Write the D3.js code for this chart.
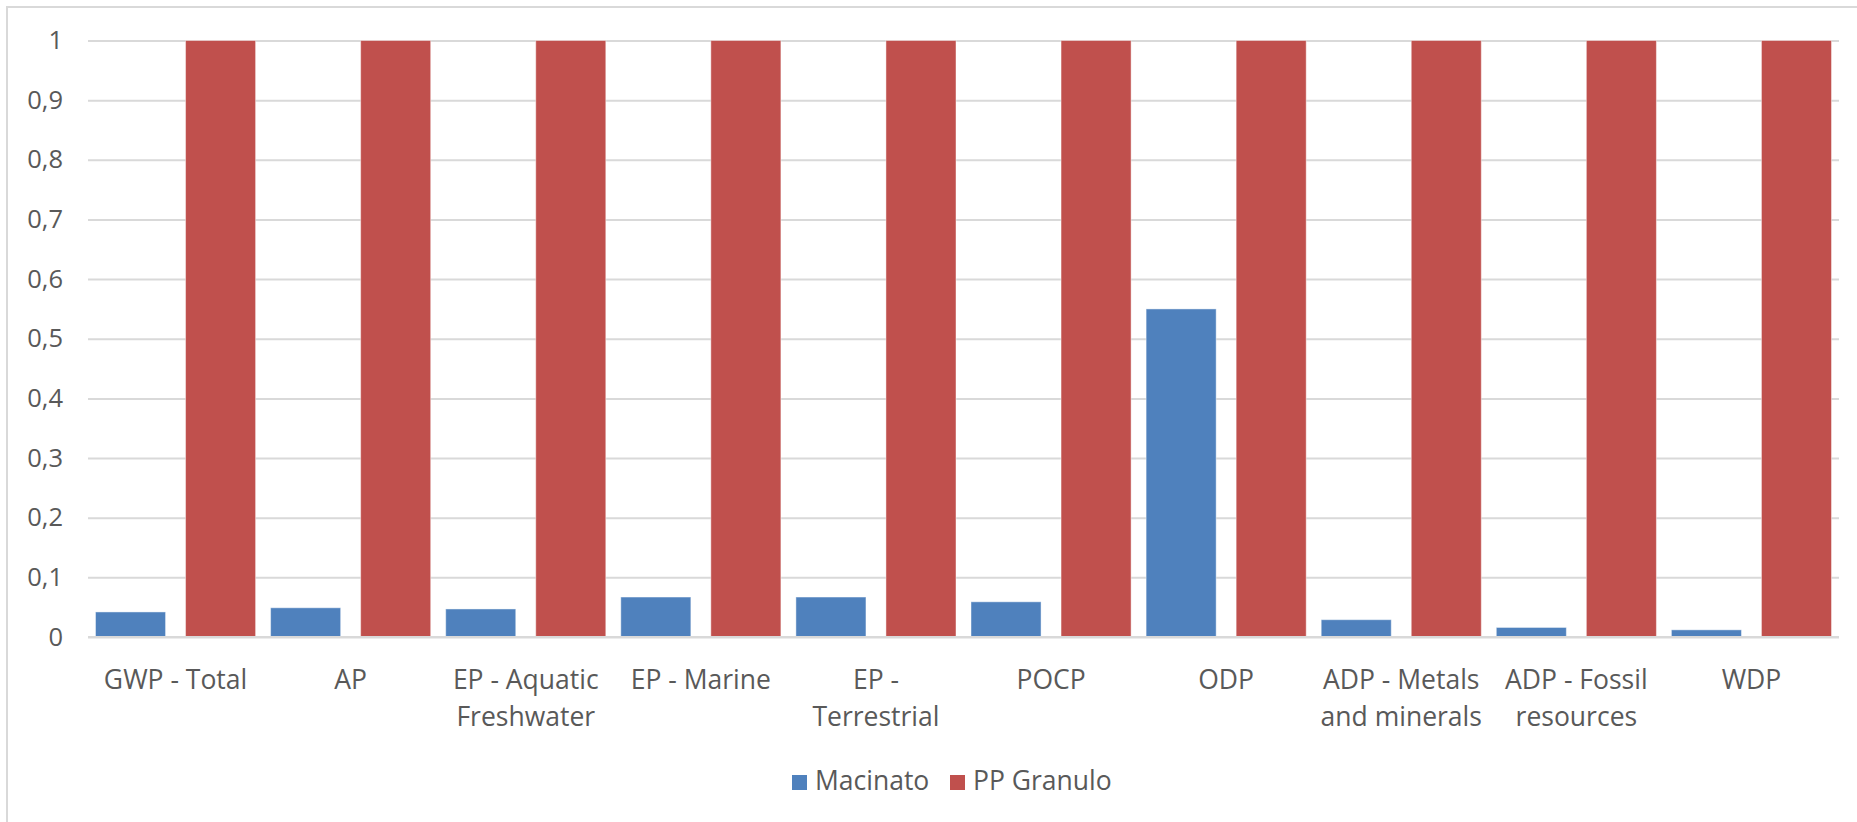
<!DOCTYPE html>
<html>
<head>
<meta charset="utf-8">
<script src="https://cdn.jsdelivr.net/npm/d3@7"></script>
<style>
  html, body { margin: 0; padding: 0; background: #fff; }
  svg { display: block; }
  text { font-family: "Open Sans", "Liberation Sans", sans-serif; fill: #595959; }
</style>
</head>
<body>
<svg id="chart" width="1857" height="822"></svg>
<script>
// ---- data ----
const categories = [
  "GWP - Total", "AP", "EP - Aquatic\nFreshwater", "EP - Marine", "EP -\nTerrestrial",
  "POCP", "ODP", "ADP - Metals\nand minerals", "ADP - Fossil\nresources", "WDP"
];
const seriesNames = ["Macinato", "PP Granulo"];
const macinato = [0.042, 0.049, 0.047, 0.067, 0.067, 0.059, 0.55, 0.029, 0.016, 0.012];
const ppGranulo = [1, 1, 1, 1, 1, 1, 1, 1, 1, 1];
const yTicks = [0, 0.1, 0.2, 0.3, 0.4, 0.5, 0.6, 0.7, 0.8, 0.9, 1];
const colors = ["#4f81bd", "#c0504d"];

const seriesValues = [macinato, ppGranulo];
const table = categories.map((c, i) => ({
  category: c,
  values: seriesNames.map((s, k) => ({ series: s, value: seriesValues[k][i] }))
}));

// ---- layout ----
const svg = d3.select("#chart");
const plotLeft = 88, plotRight = 1839, plotTop = 40.5, plotBottom = 637;
const catFont = 26.5, tickFont = 25.5;

const x0 = d3.scaleBand().domain(categories).range([plotLeft, plotRight]).padding(0);
const x1 = d3.scaleBand().domain(seriesNames).range([0, x0.bandwidth()])
  .paddingInner(0.222).paddingOuter(0.0833);
const y = d3.scaleLinear().domain([0, 1]).range([plotBottom, plotTop]);
const color = d3.scaleOrdinal().domain(seriesNames).range(colors);

const locale = d3.formatLocale({ decimal: ",", thousands: ".", grouping: [3], currency: ["", "€"] });
const fmt = locale.format("~g");

// chart frame (left and top edges visible)
svg.append("line").attr("x1", 7).attr("x2", 7).attr("y1", 6).attr("y2", 822)
  .attr("stroke", "#d9d9d9").attr("stroke-width", 2);
svg.append("line").attr("x1", 6).attr("x2", 1857).attr("y1", 7).attr("y2", 7)
  .attr("stroke", "#d9d9d9").attr("stroke-width", 2);

// gridlines + y axis labels
const yAxis = d3.axisLeft(y).tickValues(yTicks).tickFormat(fmt)
  .tickSize(-(plotRight - plotLeft)).tickPadding(25);
const gy = svg.append("g").attr("transform", `translate(${plotLeft},0)`).call(yAxis);
gy.select(".domain").remove();
gy.selectAll(".tick line").attr("stroke", "#d9d9d9").attr("stroke-width", 2);
gy.selectAll(".tick text").attr("font-size", tickFont).attr("fill", "#595959")
  .attr("font-family", "Open Sans, Liberation Sans, sans-serif");

// bars
const groups = svg.append("g").selectAll("g").data(table).join("g")
  .attr("transform", d => `translate(${x0(d.category)},0)`);
groups.selectAll("rect").data(d => d.values).join("rect")
  .attr("x", d => x1(d.series))
  .attr("width", x1.bandwidth())
  .attr("y", d => y(d.value))
  .attr("height", d => y(0) - y(d.value))
  .attr("fill", d => color(d.series))
  .attr("stroke", "rgba(255,255,255,0.45)")
  .attr("stroke-width", 1);

// x axis line (zero)
svg.append("line").attr("x1", plotLeft).attr("x2", plotRight).attr("y1", y(0)).attr("y2", y(0))
  .attr("stroke", "#d9d9d9").attr("stroke-width", 2);

// category labels
const xAxis = d3.axisBottom(x0).tickSize(0).tickFormat("");
const gx = svg.append("g").attr("transform", `translate(0,${plotBottom})`).call(xAxis);
gx.select(".domain").remove();
gx.selectAll(".tick").each(function (d) {
  const t = d3.select(this).append("text")
    .attr("text-anchor", "middle").attr("font-size", catFont).attr("fill", "#595959")
    .attr("font-family", "Open Sans, Liberation Sans, sans-serif");
  d.split("\n").forEach((line, i) => {
    t.append("tspan").attr("x", 0).attr("y", 52 + i * 37).text(line);
  });
});

// legend
const legendItems = [{ name: seriesNames[0], x: 792 }, { name: seriesNames[1], x: 950 }];
const lg = svg.append("g").selectAll("g").data(legendItems).join("g")
  .attr("transform", d => `translate(${d.x},775)`);
lg.append("rect").attr("width", 15).attr("height", 15).attr("fill", d => color(d.name));
lg.append("text").attr("x", 23).attr("y", 15).attr("font-size", catFont).attr("fill", "#595959")
  .text(d => d.name);
</script>
</body>
</html>
